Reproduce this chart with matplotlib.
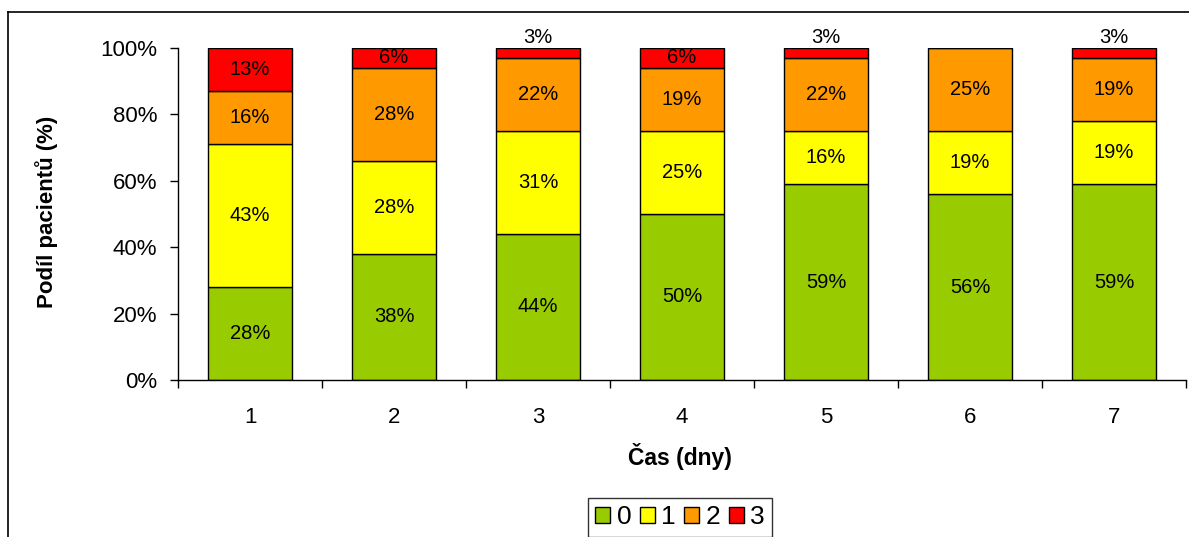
import matplotlib.pyplot as plt
import numpy as np
from matplotlib.lines import Line2D
from matplotlib.patches import Patch

plt.rcParams['font.family'] = ['Liberation Sans', 'DejaVu Sans']

days = ['1', '2', '3', '4', '5', '6', '7']
score_0 = [28, 38, 44, 50, 59, 56, 59]
score_1 = [43, 28, 31, 25, 16, 19, 19]
score_2 = [16, 28, 22, 19, 22, 25, 19]
score_3 = [13, 6, 3, 6, 3, 0, 3]
series = [('0', score_0, '#99CC00'), ('1', score_1, '#FFFF00'),
          ('2', score_2, '#FF9900'), ('3', score_3, '#FF0000')]

W, H = 1189, 537
fig = plt.figure(figsize=(W / 100, H / 100), dpi=100)
ax = fig.add_axes([178 / W, 1 - 380 / H, (1186 - 178) / W, 332 / H])

x = np.arange(len(days))
bottom = np.zeros(len(days))
for name, vals, color in series:
    vals = np.array(vals, dtype=float)
    ax.bar(x, vals, 0.583, bottom=bottom, color=color, edgecolor='black',
           linewidth=1, label=name)
    for xi, b, v in zip(x, bottom, vals):
        if v <= 0:
            continue
        if v < 5:
            # thin slices get their label above the column
            ax.text(xi, b + v + 1.4, f'{v:.0f}%', ha='center', va='baseline',
                    fontsize=14.5, clip_on=False)
        else:
            ax.text(xi, b + v / 2, f'{v:.0f}%', ha='center', va='center',
                    fontsize=14.5)
    bottom += vals

ax.set_xlim(-0.5, len(days) - 0.5)
ax.set_ylim(0, 100)
ax.set_yticks(np.arange(0, 101, 20))
ax.set_yticklabels([f'{v}%' for v in range(0, 101, 20)])
ax.set_xticks(x)
ax.set_xticklabels(days)
ax.set_xticks(np.arange(-0.5, len(days)), minor=True)
ax.tick_params(axis='x', which='major', length=0, pad=19.5, labelsize=16)
ax.tick_params(axis='x', which='minor', length=6, width=1, direction='out')
ax.tick_params(axis='y', length=6, width=1, pad=9, labelsize=16)
for side in ['top', 'right']:
    ax.spines[side].set_visible(False)
for side in ['left', 'bottom']:
    ax.spines[side].set_linewidth(1)

fig.text(680 / W, 1 - 457 / H, 'Čas (dny)', ha='center', va='center',
         fontsize=16.5, fontweight='bold')
fig.text(47 / W, 1 - 212 / H, 'Podíl pacientů (%)', ha='center', va='center',
         rotation=90, fontsize=16, fontweight='bold')

handles = [Patch(facecolor=c, edgecolor='black', linewidth=1, label=n)
           for n, _, c in series]
leg = fig.legend(handles=handles, loc='upper left',
                 bbox_to_anchor=(588 / W, 1 - 498 / H), ncol=4, fontsize=19,
                 frameon=True, fancybox=False, handlelength=0.57,
                 handleheight=0.57, handletextpad=0.23, columnspacing=0.33,
                 borderpad=0.28, borderaxespad=0)
leg.get_frame().set_edgecolor('black')
leg.get_frame().set_linewidth(1)

# chart area border (runs off the right and bottom edges)
fig.add_artist(Line2D([8 / W, 8 / W], [-0.05, 1 - 12 / H], color='black',
                      linewidth=1.2, transform=fig.transFigure))
fig.add_artist(Line2D([8 / W, 1.05], [1 - 12 / H, 1 - 12 / H], color='black',
                      linewidth=1.2, transform=fig.transFigure))

fig.savefig('out.png', dpi=100)
